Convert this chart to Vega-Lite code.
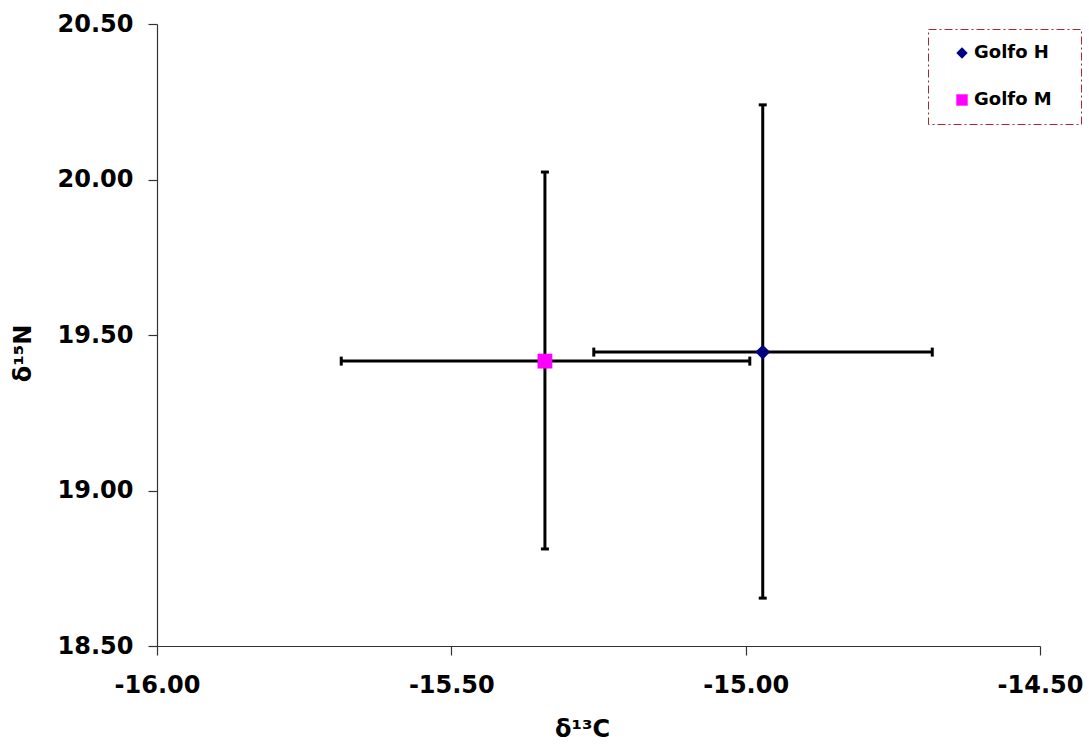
{
  "$schema": "https://vega.github.io/schema/vega-lite/v6.json",
  "width": 883,
  "height": 622,
  "autosize": {"type": "none"},
  "padding": {"left": 157, "top": 24, "right": 49, "bottom": 98},
  "background": "white",
  "config": {
    "view": {"stroke": null},
    "font": "DejaVu Sans",
    "axis": {
      "labelFont": "DejaVu Sans",
      "labelFontWeight": "bold",
      "labelFontSize": 24,
      "labelColor": "#000000",
      "titleFont": "DejaVu Sans",
      "titleFontWeight": "bold",
      "titleFontSize": 24,
      "titleColor": "#000000",
      "domainColor": "#333333",
      "tickColor": "#333333",
      "domainWidth": 1.2,
      "tickWidth": 1.2,
      "grid": false,
      "tickSize": 9
    },
    "legend": {
      "strokeDash": [8, 3, 2, 3]
    }
  },
  "data": {
    "values": [
      {"series": "Golfo H", "x": -14.971, "y": 19.445, "xlo": -15.258, "xhi": -14.683, "ylo": 18.654, "yhi": 20.24},
      {"series": "Golfo M", "x": -15.341, "y": 19.416, "xlo": -15.687, "xhi": -14.993, "ylo": 18.812, "yhi": 20.024}
    ]
  },
  "layer": [
    {
      "mark": {"type": "rule", "color": "#000000", "strokeWidth": 3},
      "encoding": {
        "x": {"field": "xlo", "type": "quantitative", "scale": {"domain": [-16, -14.5], "nice": false, "zero": false},
          "axis": {"values": [-16, -15.5, -15, -14.5], "labelExpr": "replace(format(datum.value, '.2f'), '\u2212', '-')", "labelFlush": false, "labelPadding": 18, "title": "δ¹³C", "titleX": 425, "titleY": 83, "titleAnchor": "middle", "titleAlign": "center", "titleBaseline": "middle"}},
        "x2": {"field": "xhi"},
        "y": {"field": "y", "type": "quantitative", "scale": {"domain": [18.5, 20.5], "nice": false, "zero": false},
          "axis": {"values": [18.5, 19, 19.5, 20, 20.5], "format": ".2f", "labelPadding": 15, "title": "δ¹⁵N", "titleX": -134, "titleY": 329, "titleAngle": -90, "titleAlign": "center", "titleBaseline": "middle"}}
      }
    },
    {
      "mark": {"type": "rule", "color": "#000000", "strokeWidth": 3},
      "encoding": {
        "x": {"field": "x", "type": "quantitative"},
        "y": {"field": "ylo", "type": "quantitative"},
        "y2": {"field": "yhi"}
      }
    },
    {
      "mark": {"type": "tick", "orient": "vertical", "color": "#000000", "thickness": 3, "size": 9, "opacity": 1},
      "encoding": {
        "x": {"field": "xlo", "type": "quantitative"},
        "y": {"field": "y", "type": "quantitative"}
      }
    },
    {
      "mark": {"type": "tick", "orient": "vertical", "color": "#000000", "thickness": 3, "size": 9, "opacity": 1},
      "encoding": {
        "x": {"field": "xhi", "type": "quantitative"},
        "y": {"field": "y", "type": "quantitative"}
      }
    },
    {
      "mark": {"type": "tick", "orient": "horizontal", "color": "#000000", "thickness": 3, "size": 8, "opacity": 1},
      "encoding": {
        "x": {"field": "x", "type": "quantitative"},
        "y": {"field": "ylo", "type": "quantitative"}
      }
    },
    {
      "mark": {"type": "tick", "orient": "horizontal", "color": "#000000", "thickness": 3, "size": 8, "opacity": 1},
      "encoding": {
        "x": {"field": "x", "type": "quantitative"},
        "y": {"field": "yhi", "type": "quantitative"}
      }
    },
    {
      "mark": {"type": "point", "filled": true, "opacity": 1, "size": 220},
      "encoding": {
        "x": {"field": "x", "type": "quantitative"},
        "y": {"field": "y", "type": "quantitative"},
        "color": {"field": "series", "type": "nominal",
          "scale": {"domain": ["Golfo H", "Golfo M"], "range": ["#000080", "#ff00ff"]},
          "legend": {
            "title": "\u00a0",
            "titleOrient": "right",
            "titleFontSize": 10,
            "titlePadding": 14,
            "orient": "none",
            "legendX": 771,
            "legendY": 5,
            "padding": 15,
            "symbolOffset": 10,
            "rowPadding": 29,
            "labelFont": "DejaVu Sans",
            "labelFontWeight": "bold",
            "labelFontSize": 18,
            "labelColor": "#000000",
            "labelOffset": 3,
            "symbolSize": 130,
            "strokeColor": "#a52a2a",
            "fillColor": "white"
          }},
        "shape": {"field": "series", "type": "nominal",
          "scale": {"domain": ["Golfo H", "Golfo M"], "range": ["diamond", "square"]}}
      }
    }
  ]
}
